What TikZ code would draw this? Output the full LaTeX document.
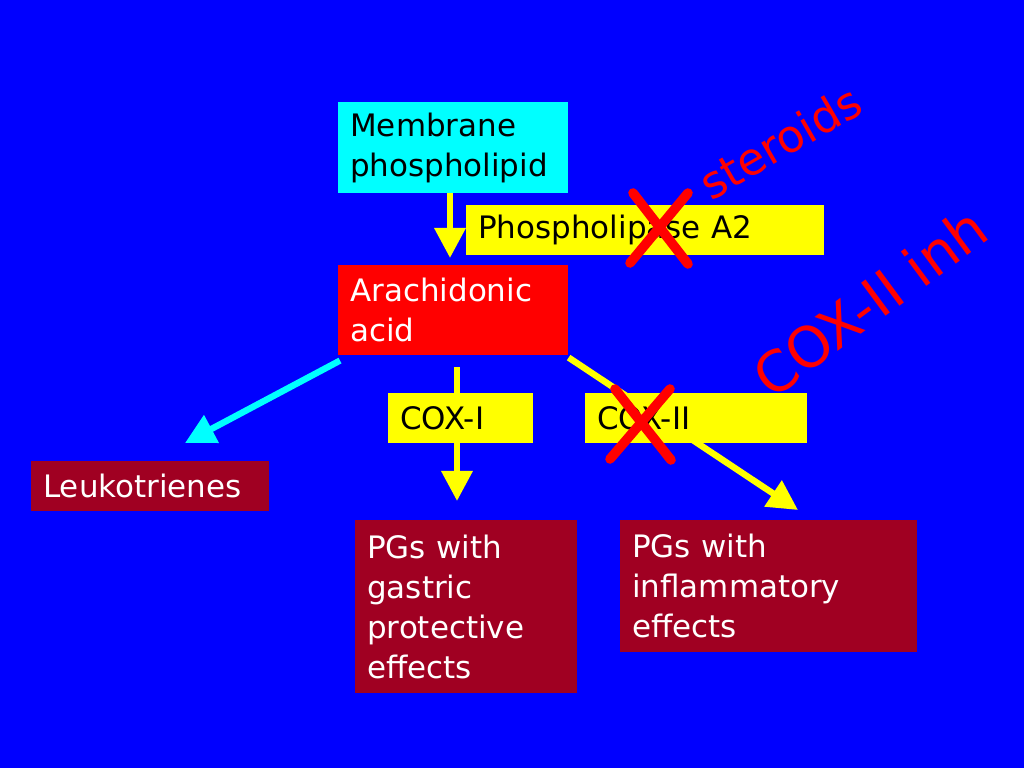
\documentclass[tikz,border=0pt]{standalone}
\usepackage{fontspec}
\setmainfont{DejaVu Sans}
\usetikzlibrary{
  arrows.meta,
  positioning,
  backgrounds
}
\definecolor{slBlue}{HTML}{0000FF}
\definecolor{slCyan}{HTML}{00FFFF}
\definecolor{slYellow}{HTML}{FFFF00}
\definecolor{slRed}{HTML}{FF0000}
\definecolor{slDark}{HTML}{A00022}
\newcommand{\slbody}{\fontsize{22}{28.5}\selectfont}
\tikzset{
  slnode/.style={
    anchor=north west, inner xsep=3mm, inner ysep=0pt, align=left,
    font=\slbody, text=black
  },
  cyanbox/.style={slnode, fill=slCyan},
  yellowbox/.style={slnode, fill=slYellow},
  redbox/.style={slnode, fill=slRed, text=white},
  darkbox/.style={slnode, fill=slDark, text=white},
  flow/.style={-{Triangle[length=7.5mm, width=7.5mm]}, line width=1.6mm},
  cross/.style={line width=2.4mm, line cap=round, slRed},
  inhib/.style={text=slRed, inner sep=0pt}
}

\begin{document}
\begin{tikzpicture}[x=0.025cm, y=-0.025cm]
  \useasboundingbox (0,0) rectangle (1024,768);

  \node[cyanbox, minimum width=57.5mm, minimum height=22.75mm, text width=51.5mm] (memb) at (338,102) {Membrane\\phospholipid};
  \node[yellowbox, minimum width=89.5mm, minimum height=12.5mm, text width=83.5mm] (pla) at (466,205) {Phospholipase A2};
  \node[redbox, minimum width=57.5mm, minimum height=22.5mm, text width=51.5mm] (arach) at (338,265) {Arachidonic\\acid};
  \node[yellowbox, minimum width=36.25mm, minimum height=12.5mm, text width=30.25mm] (cox1) at (388,393) {COX-I};
  \node[yellowbox, minimum width=55.5mm, minimum height=12.5mm, text width=49.5mm] (cox2) at (585,393) {COX-II};
  \node[darkbox, minimum width=59.5mm, minimum height=12.5mm, text width=53.5mm] (leuk) at (31,461) {Leukotrienes};
  \node[darkbox, minimum width=55.5mm, minimum height=43.25mm, text width=49.5mm] (gast) at (355,520) {PGs with\\gastric\\protective\\effects};
  \node[darkbox, minimum width=74.25mm, minimum height=33mm, text width=68.25mm] (infl) at (620,520) {PGs with\\inflammatory\\effects};

  \coordinate (membout) at (450,193);
  \coordinate (arachin) at (450,258);
  \coordinate (leuktip) at (185,443);
  \coordinate (cox1top) at (457,367);
  \coordinate (gasttip) at (457,501);
  \coordinate (infltip) at (798,510);

  \begin{scope}[on background layer]
    \fill[slBlue] (0,0) rectangle (1024,768);
    \draw[flow, slYellow] (membout) -- (arachin);
    \draw[flow, slCyan] ([shift={(2,5)}]arach.south west) -- (leuktip);
    \draw[flow, slYellow] (cox1top) -- (gasttip);
    \draw[flow, slYellow] ([shift={(0,2)}]arach.south east) -- (infltip);
  \end{scope}

  \draw[cross] (633,193) -- (688,264) (630,263) -- (688,193);
  \draw[cross] (615,389) -- (671,460) (610,459) -- (670,389);

  \node[inhib, rotate=30, font=\fontsize{32}{36}\selectfont] (ster) at (780,142) {steroids};
  \node[inhib, rotate=36.5, font=\fontsize{40}{44}\selectfont] (coxinh) at (870,302) {COX-II inh};
\end{tikzpicture}
\end{document}
